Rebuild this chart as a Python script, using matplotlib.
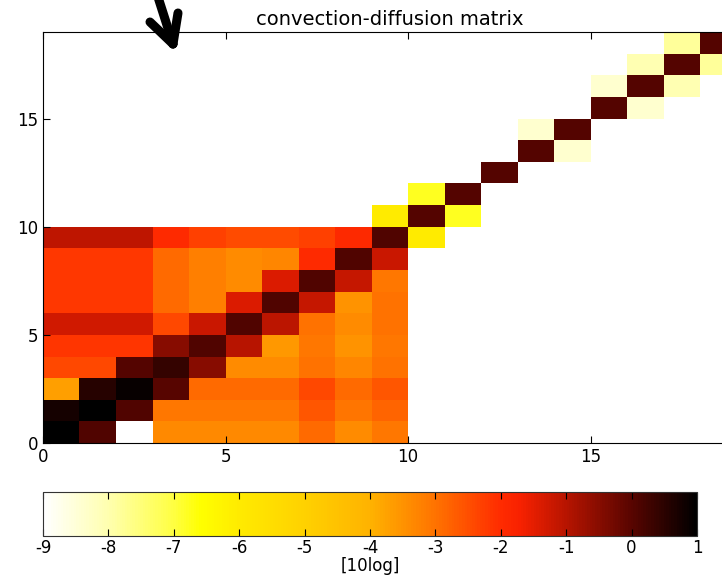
import numpy as np
import matplotlib
matplotlib.use("Agg")
import matplotlib.pyplot as plt
from matplotlib.colors import LinearSegmentedColormap
from matplotlib.lines import Line2D

plt.rcParams["axes.unicode_minus"] = False

N = 19
nan = np.nan
# lower-left 10x10 block, rows from bottom (row 0) to row 9, values in [10log]
block_rows = [
    [1.0, 0.1, nan, -3.35, -3.35, -3.35, -3.35, -2.9, -3.4, -3.1],
    [0.75, 1.0, 0.1, -3.1, -3.1, -3.1, -3.1, -2.6, -3.05, -2.8],
    [-3.7, 0.55, 0.9, 0.0, -2.9, -2.9, -2.9, -2.4, -2.9, -2.6],
    [-2.4, -2.4, 0.05, 0.4, -0.5, -3.4, -3.4, -3.0, -3.3, -3.0],
    [-2.15, -2.15, -2.15, -0.5, 0.1, -1.0, -3.6, -3.1, -3.5, -3.1],
    [-1.3, -1.3, -1.3, -2.4, -1.2, 0.1, -1.05, -3.0, -3.4, -3.0],
    [-2.2, -2.2, -2.2, -2.9, -3.2, -1.4, 0.1, -1.15, -3.5, -3.0],
    [-2.2, -2.2, -2.2, -2.9, -3.2, -3.4, -1.4, 0.1, -1.15, -3.1],
    [-2.2, -2.2, -2.2, -2.9, -3.2, -3.4, -3.3, -2.0, 0.1, -1.2],
    [-1.1, -1.1, -1.1, -2.0, -2.3, -2.45, -2.45, -2.3, -1.95, 0.1],
]
# upper tridiagonal part: (row, col, value)
upper_rows = [9, 10, 10, 10, 11, 11, 12, 13, 13, 14, 14, 15, 15, 16, 16, 16, 17, 17, 17, 18, 18]
upper_cols = [10, 9, 10, 11, 10, 11, 12, 13, 14, 13, 14, 15, 16, 15, 16, 17, 16, 17, 18, 17, 18]
upper_vals = [-6.0, -6.0, 0.05, -6.8, -6.8, 0.05, 0.05, 0.05, -8.4, -8.4, 0.05, 0.05, -8.4,
              -8.4, 0.05, -8.05, -8.05, 0.05, -7.8, -7.8, 0.05]

M = np.full((N, N), np.nan)
M[:10, :10] = np.array(block_rows)
for r, c, v in zip(upper_rows, upper_cols, upper_vals):
    M[r, c] = v

vmin, vmax = -9, 1
nodes = [
    (-9.0, (1, 1, 1)),
    (-8.0, (1, 1, 0.68)),
    (-7.0, (1, 1, 0.25)),
    (-6.6, (1, 1, 0)),
    (-6.0, (1, 0.92, 0)),
    (-5.0, (1, 0.82, 0)),
    (-4.0, (1, 0.70, 0)),
    (-3.0, (1, 0.45, 0)),
    (-2.0, (1, 0.17, 0)),
    (-1.7, (0.97, 0.13, 0)),
    (-1.0, (0.72, 0.08, 0)),
    (0.0, (0.35, 0.02, 0)),
    (1.0, (0, 0, 0)),
]
cmap = LinearSegmentedColormap.from_list(
    "hotlike", [((v - vmin) / (vmax - vmin), c) for v, c in nodes])
cmap.set_bad("white")

W, H = 722, 578
fig = plt.figure(figsize=(W / 100, H / 100), dpi=100)
ax = fig.add_axes([43 / W, 1 - 443 / H, 693.5 / W, 411 / H])
im = ax.imshow(np.ma.masked_invalid(M), cmap=cmap, vmin=vmin, vmax=vmax,
               origin="lower", extent=(0, N, 0, N), aspect="auto",
               interpolation="nearest")
ax.set_xlim(0, N)
ax.set_ylim(0, N)
ax.set_xticks([0, 5, 10, 15])
ax.set_yticks([0, 5, 10, 15])
ax.tick_params(direction="in", top=True, right=True, labelsize=12, length=5)
ax.set_title("convection-diffusion matrix", fontsize=14, pad=5)

cax = fig.add_axes([43 / W, 1 - 536 / H, 654 / W, 44 / H])
cb = fig.colorbar(im, cax=cax, orientation="horizontal")
cb.set_ticks(list(range(-9, 2)))
cb.ax.tick_params(direction="in", top=True, bottom=True, labelsize=12, length=5, pad=2)
cb.set_label("[10log]", fontsize=12, labelpad=0)
cb.outline.set_edgecolor("#333333")

def fx(x):
    return x / W

def fy(y):
    return 1 - y / H

lw = 6.5
for (x0, y0), (x1, y1) in [((157, -6), (173, 44)), ((173, 44), (150, 22)), ((173, 44), (178, 13))]:
    fig.add_artist(Line2D([fx(x0), fx(x1)], [fy(y0), fy(y1)], color="black", lw=lw,
                          solid_capstyle="round", transform=fig.transFigure))

fig.savefig("out.png", dpi=100)
